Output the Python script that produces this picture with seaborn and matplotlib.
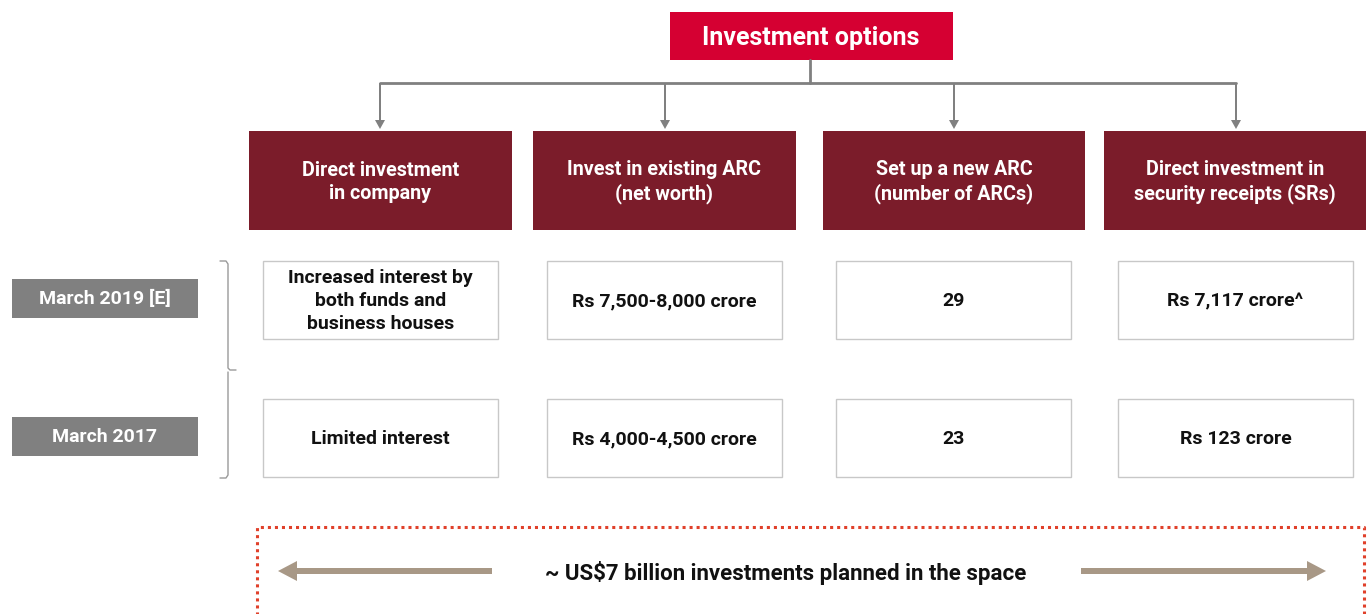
import matplotlib.pyplot as plt
import seaborn as sns
from matplotlib.patches import Rectangle, FancyArrow

# --- data ---
title = "Investment options"
options = ["Direct investment\nin company",
           "Invest in existing ARC\n(net worth)",
           "Set up a new ARC\n(number of ARCs)",
           "Direct investment in\nsecurity receipts (SRs)"]
periods = ["March 2019 [E]", "March 2017"]
values_2019 = ["Increased interest by\nboth funds and\nbusiness houses",
               "Rs 7,500-8,000 crore", "29", "Rs 7,117 crore^"]
values_2017 = ["Limited interest", "Rs 4,000-4,500 crore", "23", "Rs 123 crore"]
footer = "~ US$7 billion investments planned in the space"

# --- style ---
sns.set_theme(style="white")
plt.rcParams['font.family'] = ['Roboto', 'DejaVu Sans']

RED = "#D50032"
MAROON = "#7B1C2A"
GREY = "#808080"
TAN = "#A89886"
DOT = "#E0402A"

fig = plt.figure(figsize=(13.7, 6.14), dpi=100)
ax = fig.add_axes([0, 0, 1, 1])
ax.set_xlim(0, 1370)
ax.set_ylim(614, 0)
ax.axis("off")


def box(x0, y0, x1, y1, fc, ec=None, lw=0):
    ax.add_patch(Rectangle((x0, y0), x1 - x0, y1 - y0, facecolor=fc,
                           edgecolor=ec if ec else fc, linewidth=lw))


# title box
box(670, 12, 953, 60, RED)
ax.text(811, 38, title, color="white", fontsize=18, fontweight="bold",
        ha="center", va="center")

# connectors
head_x = [380, 665, 954, 1236]
ax.plot([810, 810], [60, 83], color=GREY, lw=2)
ax.plot([head_x[0], head_x[-1]], [83, 83], color=GREY, lw=2)
for hx in head_x:
    ax.add_patch(FancyArrow(hx, 83, 0, 46, width=2, head_width=10,
                            head_length=9, length_includes_head=True,
                            color=GREY, linewidth=0))

# header boxes
head_l = [249, 533, 823, 1104]
head_r = [512, 796, 1085, 1366]
for x0, x1, lab in zip(head_l, head_r, options):
    box(x0, 131, x1, 230, MAROON)
    ax.text((x0 + x1) / 2, 182, lab, color="white", fontsize=14.2,
            fontweight="bold", ha="center", va="center", linespacing=1.3)

# period labels
for y0, lab in zip([279, 417], periods):
    box(12, y0, 198, y0 + 39, GREY)
    ax.text(105, y0 + 20, lab, color="white", fontsize=14, fontweight="bold",
            ha="center", va="center")

# brace
ax.plot([220, 226, 228, 228, 230, 236], [261, 261, 264, 368, 370, 370],
        color="#9a9a9a", lw=1)
ax.plot([228, 228, 226, 220], [372, 475, 478, 478], color="#9a9a9a", lw=1)

# value boxes
val_l = [263, 547, 836, 1118]
val_r = [498, 782, 1071, 1353]
for (y0, y1), vals in zip([(261, 339), (399, 477)], [values_2019, values_2017]):
    for x0, x1, v in zip(val_l, val_r, vals):
        box(x0, y0, x1, y1, "white", ec="#c8c8c8", lw=1)
        ax.text((x0 + x1) / 2, (y0 + y1) / 2 + 1, v, color="#111111",
                fontsize=14, fontweight="bold", ha="center", va="center",
                linespacing=1.35)

# dotted frame
ax.plot([257, 257, 1364, 1364], [620, 527, 527, 620], color=DOT, lw=2.2,
        linestyle=(0, (1, 1.3)))

# footer arrows and text
ax.add_patch(FancyArrow(492, 571, -214, 0, width=6, head_width=20,
                        head_length=19, length_includes_head=True,
                        color=TAN, linewidth=0))
ax.add_patch(FancyArrow(1081, 571, 245, 0, width=6, head_width=20,
                        head_length=19, length_includes_head=True,
                        color=TAN, linewidth=0))
ax.text(786, 573, footer, color="#111111", fontsize=16, fontweight="bold",
        ha="center", va="center")

fig.savefig("out.png", dpi=100)
plt.close(fig)
